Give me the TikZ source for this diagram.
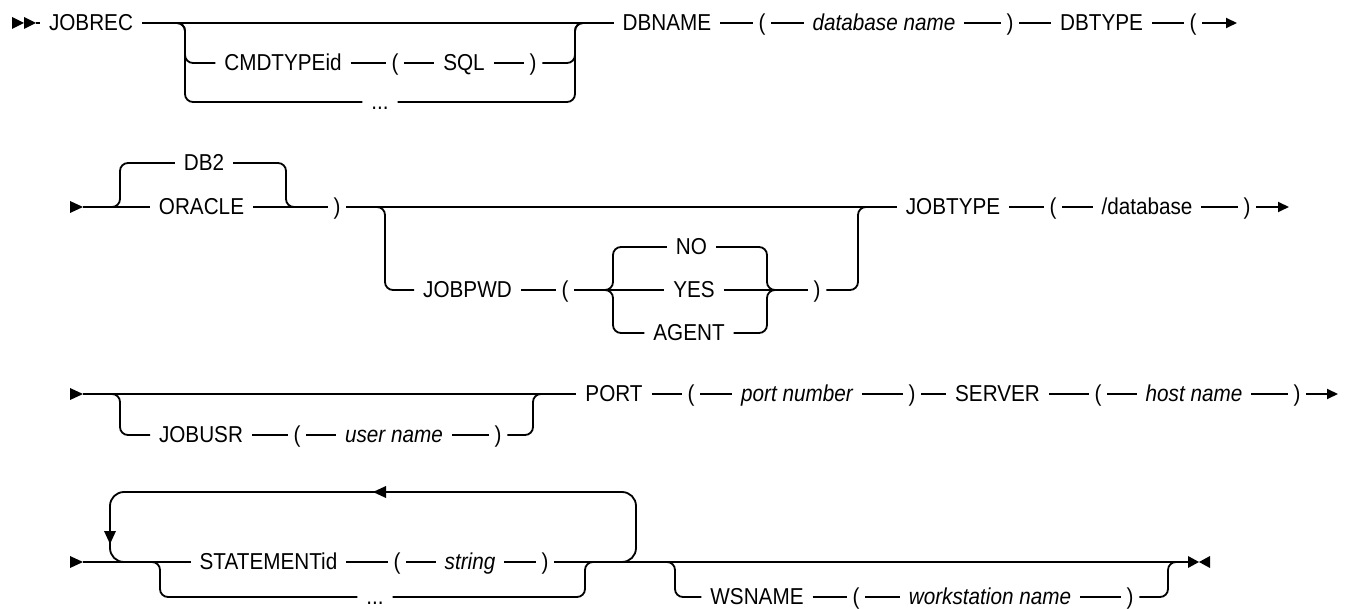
\documentclass[tikz,border=0pt]{standalone}
\usepackage{fontspec}
\setmainfont{Liberation Sans}[FakeStretch=0.9]
\usetikzlibrary{arrows.meta}
\begin{document}
\begin{tikzpicture}[x=1pt,y=-1pt,
  kw/.style={font=\fontsize{23}{27}\selectfont, inner xsep=9pt, inner ysep=0pt, text height=15.8pt, text depth=0pt, outer sep=0pt},
  var/.style={kw, font=\fontsize{23}{27}\selectfont\itshape},
  par/.style={kw, inner xsep=6pt},
  ln/.style={line width=1.8pt},
  br/.style={ln, rounded corners=8pt},
  lp/.style={ln, rounded corners=14pt},
  endarrow/.style={ln, -{Triangle[length=11pt,width=10pt]}},
  mk/.style={fill=black}]
\useasboundingbox (0,0) rectangle (1351,609);

% ---------------- Row 1 ----------------
\node[kw] (jobrec) at (91,23) {JOBREC};
\node[kw] (cmd) at (283,63) {CMDTYPEid};
\node[par] (p1a) at (395,63) {(};
\node[kw] (sql) at (464,63) {SQL};
\node[par] (p1b) at (533,63) {)};
\node[kw] (dots1) at (380,102) {...};
\node[kw] (dbname) at (667,23) {DBNAME};
\node[par] (p1c) at (762,23) {(};
\node[var] (dbn) at (884,23) {database name};
\node[par] (p1d) at (1010,23) {)};
\node[kw] (dbtype) at (1101.5,23) {DBTYPE};
\node[par] (p1e) at (1193,23) {(};
\coordinate (e1) at (1237,23);
\coordinate (s1) at (12,23);
\coordinate (s1b) at (24,23);
\coordinate (s1t) at (36,23);
\fill[mk] (s1) ++(0,-6) -- ++(12,6) -- ++(-12,6) -- cycle;
\fill[mk] (s1b) ++(0,-6) -- ++(12,6) -- ++(-12,6) -- cycle;
\draw[ln] (s1t) -- (jobrec.west);
\draw[ln] (jobrec.east) -- (dbname.west);
\coordinate (L1) at (185,23);
\coordinate (R1) at (575,23);
\draw[br] ([xshift=-10pt]L1) -- (L1) |- (cmd.west);
\draw[br] ([xshift=-10pt]L1) -- (L1) |- (dots1.west);
\draw[ln] (cmd.east) -- (p1a.west);
\draw[ln] (p1a.east) -- (sql.west);
\draw[ln] (sql.east) -- (p1b.west);
\draw[br] (p1b.east) -| (R1) -- ([xshift=10pt]R1);
\draw[br] (dots1.east) -| (R1) -- ([xshift=10pt]R1);
\draw[ln] (dbname.east) -- (p1c.west);
\draw[ln] (p1c.east) -- (dbn.west);
\draw[ln] (dbn.east) -- (p1d.west);
\draw[ln] (p1d.east) -- (dbtype.west);
\draw[ln] (dbtype.east) -- (p1e.west);
\draw[endarrow] (p1e.east) -- (e1);

% ---------------- Row 2 ----------------
\coordinate (s2) at (70,207);
\coordinate (s2t) at (83,207);
\fill[mk] (s2) ++(0,-6) -- ++(13,6) -- ++(-13,6) -- cycle;
\node[kw] (db2) at (204,163) {DB2};
\node[kw] (oracle) at (201.5,207) {ORACLE};
\node[par] (p2a) at (337,207) {)};
\node[kw] (jobpwd) at (467.5,290) {JOBPWD};
\node[par] (p2b) at (565,290) {(};
\node[kw] (no) at (691.5,247) {NO};
\node[kw] (yes) at (694,290) {YES};
\node[kw] (agent) at (689,333) {AGENT};
\node[par] (p2c) at (817,290) {)};
\node[kw] (jobtype) at (953,207) {JOBTYPE};
\node[par] (p2d) at (1053,207) {(};
\node[kw] (slashdb) at (1147,207) {/database};
\node[par] (p2e) at (1247,207) {)};
\coordinate (e2) at (1289,207);
\draw[ln] (s2t) -- (oracle.west);
\coordinate (A2) at (120,207);
\coordinate (B2) at (286,207);
\draw[br] ([xshift=-10pt]A2) -- (A2) |- (db2.west);
\draw[br] (db2.east) -| (B2) -- ([xshift=10pt]B2);
\draw[ln] (oracle.east) -- (p2a.west);
\draw[ln] (p2a.east) -- (jobtype.west);
\coordinate (C2) at (385,207);
\coordinate (D2) at (858,207);
\draw[br] ([xshift=-10pt]C2) -- (C2) |- (jobpwd.west);
\draw[ln] (jobpwd.east) -- (p2b.west);
\coordinate (E2) at (613,290);
\coordinate (F2) at (767,290);
\draw[ln] (p2b.east) -- (yes.west);
\draw[br] ([xshift=-10pt]E2) -- (E2) |- (no.west);
\draw[br] ([xshift=-10pt]E2) -- (E2) |- (agent.west);
\draw[ln] (yes.east) -- (p2c.west);
\draw[br] (no.east) -| (F2) -- ([xshift=10pt]F2);
\draw[br] (agent.east) -| (F2) -- ([xshift=10pt]F2);
\draw[br] (p2c.east) -| (D2) -- ([xshift=10pt]D2);
\draw[ln] (jobtype.east) -- (p2d.west);
\draw[ln] (p2d.east) -- (slashdb.west);
\draw[ln] (slashdb.east) -- (p2e.west);
\draw[endarrow] (p2e.east) -- (e2);

% ---------------- Row 3 ----------------
\coordinate (s3) at (70,394);
\coordinate (s3t) at (83,394);
\fill[mk] (s3) ++(0,-6) -- ++(13,6) -- ++(-13,6) -- cycle;
\node[kw] (jobusr) at (201,435) {JOBUSR};
\node[par] (p3a) at (297,435) {(};
\node[var] (user) at (394,435) {user name};
\node[par] (p3b) at (498,435) {)};
\node[kw] (port) at (614,394) {PORT};
\node[par] (p3c) at (691,394) {(};
\node[var] (portn) at (797,394) {port number};
\node[par] (p3d) at (912,394) {)};
\node[kw] (server) at (997.5,394) {SERVER};
\node[par] (p3e) at (1098,394) {(};
\node[var] (host) at (1194,394) {host name};
\node[par] (p3f) at (1297,394) {)};
\coordinate (e3) at (1338,394);
\draw[ln] (s3t) -- (port.west);
\coordinate (G3) at (120,394);
\coordinate (H3) at (533,394);
\draw[br] ([xshift=-10pt]G3) -- (G3) |- (jobusr.west);
\draw[ln] (jobusr.east) -- (p3a.west);
\draw[ln] (p3a.east) -- (user.west);
\draw[ln] (user.east) -- (p3b.west);
\draw[br] (p3b.east) -| (H3) -- ([xshift=10pt]H3);
\draw[ln] (port.east) -- (p3c.west);
\draw[ln] (p3c.east) -- (portn.west);
\draw[ln] (portn.east) -- (p3d.west);
\draw[ln] (p3d.east) -- (server.west);
\draw[ln] (server.east) -- (p3e.west);
\draw[ln] (p3e.east) -- (host.west);
\draw[ln] (host.east) -- (p3f.west);
\draw[endarrow] (p3f.east) -- (e3);

% ---------------- Row 4 ----------------
\coordinate (s4) at (70,562);
\coordinate (s4t) at (83,562);
\fill[mk] (s4) ++(0,-6) -- ++(13,6) -- ++(-13,6) -- cycle;
\node[kw] (stmt) at (268.5,562) {STATEMENTid};
\node[par] (p4a) at (397,562) {(};
\node[var] (str) at (470,562) {string};
\node[par] (p4b) at (545,562) {)};
\node[kw] (dots4) at (375,597) {...};
\node[kw] (wsname) at (757,597) {WSNAME};
\node[par] (p4c) at (856,597) {(};
\node[var] (ws) at (990,597) {workstation name};
\node[par] (p4d) at (1130,597) {)};
\coordinate (e4) at (1188,562);
\coordinate (e4m) at (1199,562);
\coordinate (e4r) at (1210,562);
\draw[ln] (s4t) -- (stmt.west);
\draw[ln] (stmt.east) -- (p4a.west);
\draw[ln] (p4a.east) -- (str.west);
\draw[ln] (str.east) -- (p4b.west);
\draw[ln] (p4b.east) -- (e4);
\fill[mk] (e4) ++(0,-6) -- (e4m) -- ++(-11,6) -- cycle;
\fill[mk] (e4r) ++(0,-6) -- (e4m) -- ++(11,6) -- cycle;
% repetition loop
\coordinate (lpL) at (110,562);
\coordinate (lpR) at (636,562);
\draw[lp] ([xshift=-30pt]lpR) -- (lpR) -- ([yshift=70pt]lpR) -- ([yshift=70pt]lpL) -- (lpL) -- ([xshift=30pt]lpL);
\fill[mk] (373,492) -- (386,486) -- (386,498) -- cycle;
\fill[mk] (110,544) -- (104,531) -- (116,531) -- cycle;
% inner choice
\coordinate (I4) at (160,562);
\coordinate (J4) at (585,562);
\draw[br] ([xshift=-10pt]I4) -- (I4) |- (dots4.west);
\draw[br] (dots4.east) -| (J4) -- ([xshift=10pt]J4);
% WSNAME optional
\coordinate (K4) at (675,562);
\coordinate (L4) at (1168,562);
\draw[br] ([xshift=-10pt]K4) -- (K4) |- (wsname.west);
\draw[ln] (wsname.east) -- (p4c.west);
\draw[ln] (p4c.east) -- (ws.west);
\draw[ln] (ws.east) -- (p4d.west);
\draw[br] (p4d.east) -| (L4) -- ([xshift=10pt]L4);
\end{tikzpicture}
\end{document}
